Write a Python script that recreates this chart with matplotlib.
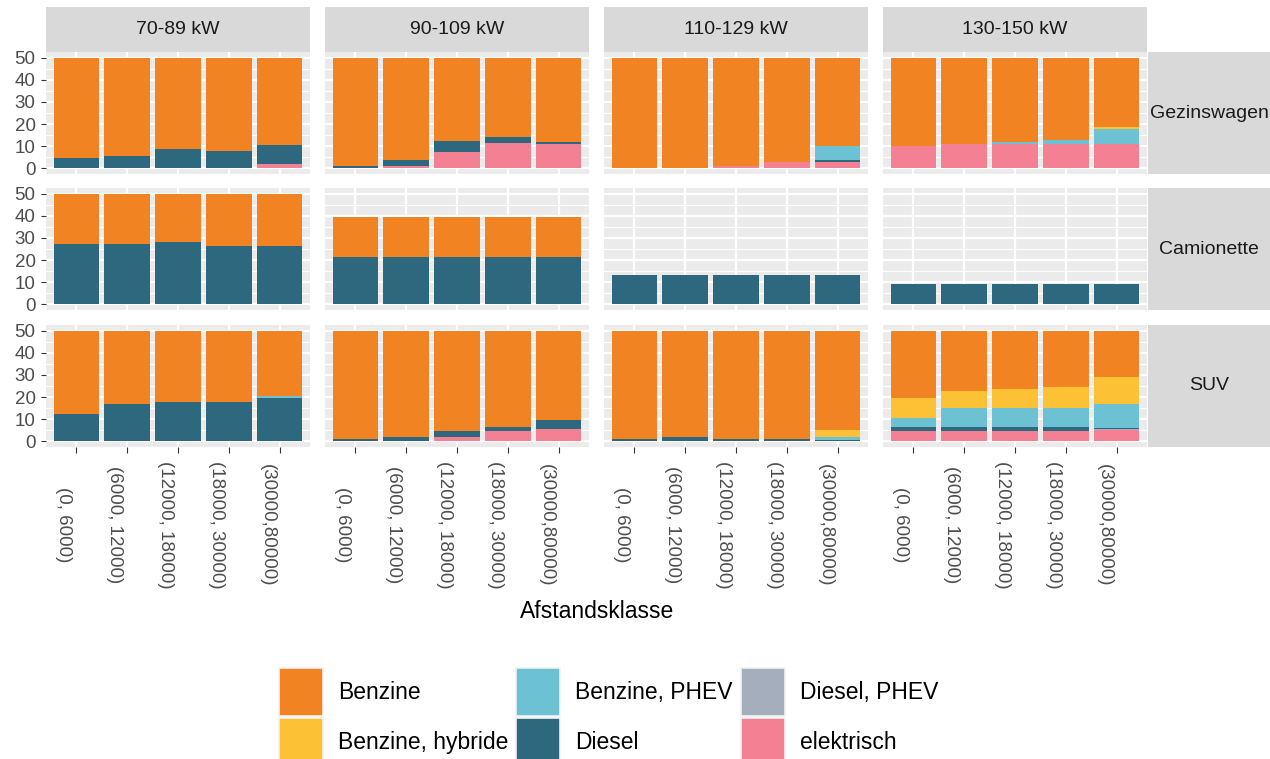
import matplotlib.pyplot as plt
from matplotlib import transforms
from matplotlib.patches import Patch
from matplotlib.ticker import MultipleLocator

# facets and categories
power_classes = ["70-89 kW", "90-109 kW", "110-129 kW", "130-150 kW"]
vehicle_types = ["Gezinswagen", "Camionette", "SUV"]
distance_labels = ["(0, 6000)", "(6000, 12000)", "(12000, 18000)",
                   "(18000, 30000)", "(30000,80000)"]
fuels = ["Benzine", "Benzine, hybride", "Benzine, PHEV",
         "Diesel", "Diesel, PHEV", "elektrisch"]
fuel_colors = ["#F28322", "#FDC136", "#6CC2D3", "#2E687E", "#A4AEBD", "#F38193"]

# values per power class (4 lists of 5 distance classes)
gezin_benzine = [[45.2, 44.3, 41.4, 42.3, 39.6], [49.1, 46.3, 37.8, 35.9, 37.9],
                 [50.0, 50.0, 49.1, 47.3, 39.8], [39.8, 38.9, 38.0, 37.0, 31.3]]
gezin_hybride = [[0, 0, 0, 0, 0], [0, 0, 0, 0, 0],
                 [0, 0, 0, 0, 0], [0, 0, 0, 0, 0.9]]
gezin_phev = [[0, 0, 0, 0, 0], [0, 0, 0, 0, 0],
              [0, 0, 0, 0, 6.3], [0, 0, 0.9, 1.9, 6.7]]
gezin_diesel = [[4.8, 5.7, 8.6, 7.7, 8.6], [0.9, 2.7, 4.7, 2.8, 1.0],
                [0, 0, 0, 0, 0.8], [0, 0, 0, 0, 0]]
gezin_diesel_phev = [[0, 0, 0, 0, 0], [0, 0, 0, 0, 0],
                     [0, 0, 0, 0, 0.4], [0, 0, 0, 0, 0]]
gezin_elek = [[0, 0, 0, 0, 1.8], [0, 1.0, 7.5, 11.3, 11.1],
              [0, 0, 0.9, 2.7, 2.7], [10.2, 11.1, 11.1, 11.1, 11.1]]

cam_benzine = [[22.7, 22.7, 21.7, 23.6, 23.6], [18.0, 18.0, 18.0, 18.0, 18.0],
               [0, 0, 0, 0, 0], [0, 0, 0, 0, 0]]
cam_hybride = [[0, 0, 0, 0, 0], [0, 0, 0, 0, 0],
               [0, 0, 0, 0, 0], [0, 0, 0, 0, 0]]
cam_phev = [[0, 0, 0, 0, 0], [0, 0, 0, 0, 0],
            [0, 0, 0, 0, 0], [0, 0, 0, 0, 0]]
cam_diesel = [[27.3, 27.3, 28.3, 26.4, 26.4], [21.5, 21.5, 21.5, 21.5, 21.5],
              [13.5, 13.5, 13.5, 13.5, 13.5], [9.0, 9.0, 9.0, 9.0, 9.0]]
cam_diesel_phev = [[0, 0, 0, 0, 0], [0, 0, 0, 0, 0],
                   [0, 0, 0, 0, 0], [0, 0, 0, 0, 0]]
cam_elek = [[0, 0, 0, 0, 0], [0, 0, 0, 0, 0],
            [0, 0, 0, 0, 0], [0, 0, 0, 0, 0]]

suv_benzine = [[37.7, 33.0, 32.1, 32.1, 29.4], [49.1, 48.0, 45.2, 43.4, 40.5],
               [49.0, 47.9, 49.0, 49.0, 45.0], [30.3, 27.3, 26.4, 25.5, 20.8]]
suv_hybride = [[0, 0, 0, 0, 0], [0, 0, 0, 0, 0],
               [0, 0, 0, 0, 2.9], [9.3, 7.6, 8.5, 9.4, 12.3]]
suv_phev = [[0, 0, 0, 0, 0.9], [0, 0, 0, 0, 0],
            [0, 0, 0, 0, 1.6], [3.8, 8.5, 8.5, 8.5, 10.7]]
suv_diesel = [[12.3, 17.0, 17.9, 17.9, 19.7], [0.9, 2.0, 2.7, 1.9, 3.8],
              [1.0, 2.1, 1.0, 1.0, 0.5], [1.9, 1.9, 1.9, 1.9, 0.7]]
suv_diesel_phev = [[0, 0, 0, 0, 0], [0, 0, 0, 0, 0],
                   [0, 0, 0, 0, 0], [0, 0, 0, 0, 0.5]]
suv_elek = [[0, 0, 0, 0, 0], [0, 0, 2.1, 4.7, 5.7],
            [0, 0, 0, 0, 0], [4.7, 4.7, 4.7, 4.7, 5.0]]


def main():
    plt.rcParams['font.family'] = ['Liberation Sans', 'DejaVu Sans']

    # same order as fuels
    series = {
        "Gezinswagen": [gezin_benzine, gezin_hybride, gezin_phev,
                        gezin_diesel, gezin_diesel_phev, gezin_elek],
        "Camionette": [cam_benzine, cam_hybride, cam_phev,
                       cam_diesel, cam_diesel_phev, cam_elek],
        "SUV": [suv_benzine, suv_hybride, suv_phev,
                suv_diesel, suv_diesel_phev, suv_elek],
    }

    W, H = 1270, 759
    fig = plt.figure(figsize=(W / 100, H / 100), dpi=100)

    col_x = [46, 325, 604, 883]
    row_top = [52, 188, 325]
    pw, ph = 264, 122
    x = list(range(1, len(distance_labels) + 1))

    for r, vtype in enumerate(vehicle_types):
        for c, pclass in enumerate(power_classes):
            ax = fig.add_axes([col_x[c] / W, 1 - (row_top[r] + ph) / H, pw / W, ph / H])
            ax.set_facecolor('#EBEBEB')
            for s in ax.spines.values():
                s.set_visible(False)

            # stack from the last fuel (elektrisch) at the bottom up to Benzine
            bottom = [0] * len(x)
            for k in range(len(fuels) - 1, -1, -1):
                vals = series[vtype][k][c]
                ax.bar(x, vals, 0.9, bottom=bottom, color=fuel_colors[k], linewidth=0)
                bottom = [b + v for b, v in zip(bottom, vals)]

            ax.set_xlim(0.4, 5.6)
            ax.set_ylim(-2.5, 52.5)
            ax.set_xticks(x)
            ax.set_xticklabels([])
            ax.set_yticks([0, 10, 20, 30, 40, 50])
            ax.yaxis.set_minor_locator(MultipleLocator(5))
            ax.set_axisbelow(True)
            ax.grid(which='major', color='white', linewidth=1.6)
            ax.grid(which='minor', axis='y', color='white', linewidth=0.8)
            ax.tick_params(which='minor', length=0)
            ax.tick_params(axis='y', length=3.5, width=0.8, color='#333333',
                           labelcolor='#4D4D4D', labelsize=13.5, pad=4)
            ax.tick_params(axis='x', length=4, width=0.8, color='#333333')
            if c > 0:
                ax.tick_params(axis='y', left=False, labelleft=False)
            if r < len(vehicle_types) - 1:
                ax.tick_params(axis='x', bottom=False)
            else:
                # rotated distance labels, centred around one height
                trans = transforms.blended_transform_factory(ax.transData, fig.transFigure)
                trans = trans + transforms.ScaledTranslation(-0.04, 0, fig.dpi_scale_trans)
                for xi, lab in zip(x, distance_labels):
                    ax.text(xi, 1 - 525 / H, lab, transform=trans, rotation=-90,
                            ha='right', va='center', fontsize=13.5, color='#4D4D4D')

            # strip on top
            if r == 0:
                sx = fig.add_axes([col_x[c] / W, 1 - row_top[0] / H, pw / W, 45 / H])
                sx.set_facecolor('#D9D9D9')
                sx.set_xticks([])
                sx.set_yticks([])
                for s in sx.spines.values():
                    s.set_visible(False)
                sx.text(0.5, 0.5, pclass, transform=sx.transAxes, ha='center',
                        va='center', fontsize=14, color='#1A1A1A')

        # strip on the right (runs past the figure edge like the original)
        sy = fig.add_axes([1148 / W, 1 - (row_top[r] + ph) / H, 134 / W, ph / H])
        sy.set_facecolor('#D9D9D9')
        sy.set_xticks([])
        sy.set_yticks([])
        for s in sy.spines.values():
            s.set_visible(False)
        sy.text(1209 / W, 1 - (row_top[r] + ph / 2) / H, vtype, transform=fig.transFigure,
                ha='center', va='center', fontsize=14, color='#1A1A1A')

    fig.text(597 / W, 1 - 612 / H, "Afstandsklasse", ha='center', va='center',
             fontsize=16.5, color='black')

    fs = 16.5
    fs_px = fs * 100 / 72
    # legend patch height is fs*(0.65*hh + 0.245), aim for ~48 px keys
    hh = (48 / fs_px - 0.245) / 0.65
    handles = [Patch(facecolor=col, edgecolor='#F2F2F2', linewidth=1.2) for col in fuel_colors]
    fig.legend(handles, fuels, ncol=3, loc='upper left',
               bbox_to_anchor=(279 / W, 1 - 668 / H), frameon=False, fontsize=fs,
               handlelength=44 / fs_px, handleheight=hh,
               handletextpad=15 / fs_px, columnspacing=8 / fs_px,
               labelspacing=2 / fs_px, borderpad=0, borderaxespad=0)

    fig.savefig("out.png", dpi=100)


if __name__ == "__main__":
    main()
